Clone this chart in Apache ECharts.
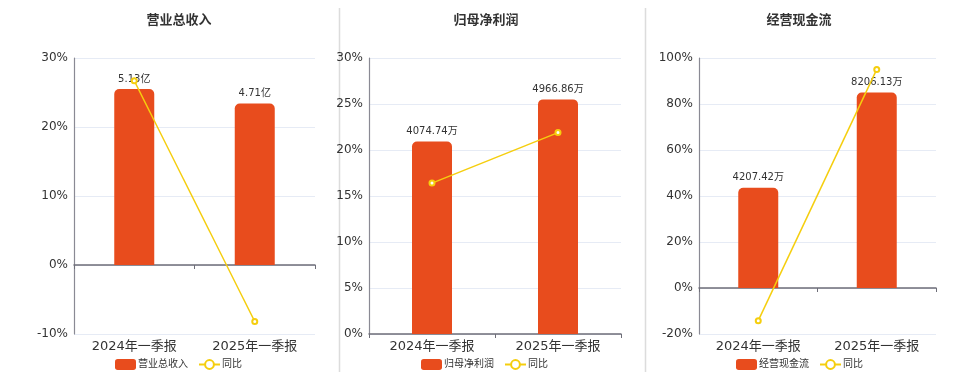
<!DOCTYPE html>
<html>
<head>
<meta charset="utf-8">
<script src="https://cdn.jsdelivr.net/npm/echarts@6/dist/echarts.min.js"></script>
<style>html,body{margin:0;padding:0;background:#fff}#c{width:960px;height:372px}</style>
</head>
<body>
<div id="c"></div>
<script>
var categories = ['2024年一季报', '2025年一季报'];
var titles = ['营业总收入', '归母净利润', '经营现金流'];
var revenue = [5.13, 4.71];
var revenueYoY = [26.7, -8.19];
var profit = [4074.74, 4966.86];
var profitYoY = [16.4, 21.89];
var cash = [4207.42, 8206.13];
var cashYoY = [-14.2, 95.04];
var units = ['亿', '万', '万'];
var pctMin = [-10, 0, -20];
var pctMax = [30, 30, 100];
var pctInterval = [10, 5, 20];

var barData = [revenue, profit, cash];
var yoyData = [revenueYoY, profitYoY, cashYoY];

var grids = [
  {left: 74, top: 58, width: 241, height: 276},
  {left: 369, top: 58, width: 252, height: 276},
  {left: 699, top: 58, width: 237, height: 276}
];
var centers = [174, 481, 794];
var legendLeft = [110, 416, 731];

var BAR = '#E84C1D', LINE = '#F5CE0E';
var option = {
  animation: false,
  backgroundColor: '#fff',
  textStyle: {fontFamily: 'DejaVu Sans, Noto Sans CJK SC, sans-serif'},
  title: [], grid: grids, xAxis: [], yAxis: [], series: [], legend: [],
  graphic: [
    {type: 'line', shape: {x1: 339.5, y1: 8, x2: 339.5, y2: 372}, style: {stroke: '#dcdcdc', lineWidth: 1.5}},
    {type: 'line', shape: {x1: 645.5, y1: 8, x2: 645.5, y2: 372}, style: {stroke: '#dcdcdc', lineWidth: 1.5}}
  ]
};
for (var i = 0; i < 3; i++) {
  option.title.push({text: titles[i], left: centers[i], top: 8, textAlign: 'center',
    textStyle: {fontSize: 13, fontWeight: 'bold', color: '#333', fontFamily: 'Noto Sans CJK SC'}});
  option.xAxis.push({type: 'category', gridIndex: i, data: categories,
    axisLine: {show: false}, axisTick: {show: false},
    axisLabel: {fontSize: 13, color: '#333', margin: 6}});
  option.xAxis.push({type: 'category', gridIndex: i, data: categories, position: 'bottom',
    axisLine: {onZero: true, lineStyle: {color: '#6e6e78', width: 1.5}},
    axisTick: {show: true, length: 4, lineStyle: {color: '#6e6e78'}},
    axisLabel: {show: false}});
  option.yAxis.push({type: 'value', gridIndex: i, min: pctMin[i], max: pctMax[i], interval: pctInterval[i],
    axisLine: {show: true, lineStyle: {color: '#8a8a94', width: 1.2}},
    axisTick: {show: false},
    splitLine: {lineStyle: {color: '#e6ebf5'}},
    axisLabel: {fontSize: 12, color: '#333', margin: 6, formatter: '{value}%'}});
  var bmax = Math.max.apply(null, barData[i]) / 0.85;
  var bmin = bmax * pctMin[i] / pctMax[i];
  option.yAxis.push({type: 'value', gridIndex: i, min: bmin, max: bmax, show: false, splitLine: {show: false}});
  option.series.push({name: titles[i], type: 'bar', xAxisIndex: i * 2, yAxisIndex: i * 2 + 1,
    data: barData[i], barWidth: 40,
    itemStyle: {color: BAR, borderRadius: [5, 5, 0, 0]},
    label: {show: true, position: 'top', fontSize: 10, color: '#333', distance: 5,
      formatter: (function (u) { return function (p) { return p.value + u; }; })(units[i])}});
  option.series.push({name: '同比', type: 'line', xAxisIndex: i * 2, yAxisIndex: i * 2,
    data: yoyData[i], symbol: 'emptyCircle', symbolSize: 5, z: 5,
    lineStyle: {color: LINE, width: 1.5}, itemStyle: {color: LINE}});
  option.legend.push({left: legendLeft[i], top: 354, itemWidth: 21, itemHeight: 11, itemGap: 10,
    data: [{name: titles[i], icon: 'roundRect'}, '同比'],
    textStyle: {fontSize: 10, color: '#333', padding: [0, 0, 0, -3]}});
}
var chart = echarts.init(document.getElementById('c'), null, {renderer: 'canvas'});
chart.setOption(option);
</script>
</body>
</html>
